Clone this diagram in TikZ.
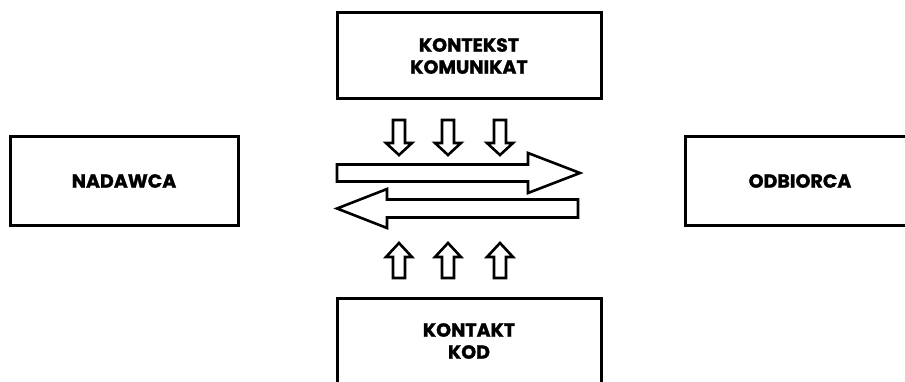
\documentclass[tikz,border=0pt]{standalone}
\usepackage{fontspec}
\setmainfont{Poppins}[BoldFeatures={FakeBold=1.3}]
\begin{document}
\begin{tikzpicture}[x=1pt,y=-1pt,
  box/.style={draw=black,line width=3pt,fill=white,inner sep=0pt,align=center,
    font=\fontsize{19}{22}\selectfont\bfseries},
  blk/.style={draw=black,line width=2.6pt,fill=white,line join=miter}]
\useasboundingbox (0,0) rectangle (905,382);
\clip (0,0) rectangle (905,382);
% boxes
\node[box,minimum width=264pt,minimum height=86pt] (kontekst) at (469,56) {KONTEKST\\KOMUNIKAT};
\node[box,minimum width=228pt,minimum height=89pt] (nadawca) at (124,181) {NADAWCA};
\node[box,minimum width=230pt,minimum height=89pt] (odbiorca) at (800,181) {ODBIORCA};
\node[box,minimum width=264pt,minimum height=86pt] (kontakt) at (469,341) {KONTAKT\\KOD};
% horizontal block arrows
\draw[blk] (337,164.5) -- (528,164.5) -- (528,153) -- (580,173) -- (528,193) -- (528,181.5) -- (337,181.5) -- cycle;
\draw[blk] (578,199.5) -- (387,199.5) -- (387,189) -- (337,208.5) -- (387,228) -- (387,217.5) -- (578,217.5) -- cycle;
% vertical block arrows
\foreach \c in {399,448,500}{
  \draw[blk] (\c-6,120) -- (\c+6,120) -- (\c+6,143) -- (\c+13,143) -- (\c,155) -- (\c-13,143) -- (\c-6,143) -- cycle;
  \draw[blk] (\c-6,278) -- (\c+6,278) -- (\c+6,257) -- (\c+13,257) -- (\c,243) -- (\c-13,257) -- (\c-6,257) -- cycle;
}
\end{tikzpicture}
\end{document}
